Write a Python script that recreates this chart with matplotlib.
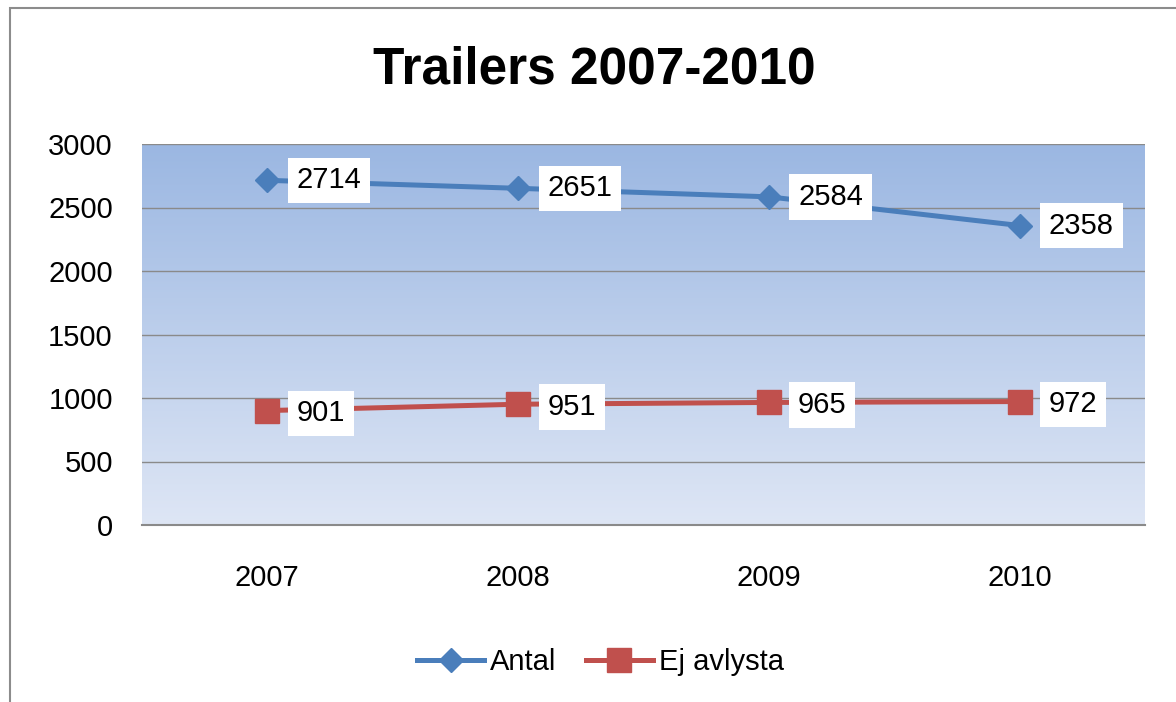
import numpy as np
import matplotlib.pyplot as plt
from matplotlib.colors import LinearSegmentedColormap
from matplotlib.patches import Rectangle

years = ['2007', '2008', '2009', '2010']
antal = [2714, 2651, 2584, 2358]
ej_avlysta = [901, 951, 965, 972]
yticks = [0, 500, 1000, 1500, 2000, 2500, 3000]

plt.rcParams.update({
    'font.family': ['Liberation Sans', 'DejaVu Sans'],
    'font.size': 15,
})

fig = plt.figure(figsize=(11.76, 7.02), dpi=100)
ax = fig.add_axes([142 / 1176, 1 - 525 / 702, 1003 / 1176, 381 / 702])

# outer chart border (right and bottom edges run off the picture)
fig.patches.append(Rectangle((10 / 1176, -0.01), 1.1, 1 - 8 / 702 + 0.01,
                             transform=fig.transFigure, fill=False,
                             edgecolor='#8c8c8c', linewidth=1.5))

x = np.arange(len(years))
ax.set_xlim(-0.5, 3.5)
ax.set_ylim(0, 3000)

# gradient background
cmap = LinearSegmentedColormap.from_list('bg', ['#dee6f5', '#9bb7e2'])
grad = np.linspace(0, 1, 256).reshape(-1, 1)
ax.imshow(grad, extent=(-0.5, 3.5, 0, 3000), origin='lower', aspect='auto',
          cmap=cmap, zorder=0)

for yv in yticks[1:]:
    ax.axhline(yv, color='#8a8a8a', linewidth=1.0, zorder=1)

ax.plot(x, antal, color='#4a7ebb', linewidth=3.6, marker='D', markersize=12,
        label='Antal', zorder=3)
ax.plot(x, ej_avlysta, color='#c0504d', linewidth=3.6, marker='s', markersize=17,
        label='Ej avlysta', zorder=3)

for xi, v in zip(x, antal):
    ax.annotate(str(v), (xi, v), xytext=(21, 0), textcoords='offset points',
                ha='left', va='center', fontsize=21, zorder=5,
                bbox=dict(boxstyle='square,pad=0.3', fc='white', ec='none'))
for xi, v in zip(x, ej_avlysta):
    ax.annotate(str(v), (xi, v), xytext=(21, -2), textcoords='offset points',
                ha='left', va='center', fontsize=21, zorder=5,
                bbox=dict(boxstyle='square,pad=0.3', fc='white', ec='none'))

ax.set_xticks(x)
ax.set_xticklabels(years)
ax.set_yticks(yticks)
ax.tick_params(axis='both', length=0, labelsize=21)
ax.tick_params(axis='x', pad=28)
ax.tick_params(axis='y', pad=21)
for s in ['left', 'right', 'top']:
    ax.spines[s].set_visible(False)
ax.spines['bottom'].set_color('#8a8a8a')
ax.spines['bottom'].set_linewidth(1.5)

fig.text(594 / 1176, 1 - 70 / 702, 'Trailers 2007-2010', ha='center', va='center',
         fontsize=37, fontweight='bold')

ax.legend(loc='center', bbox_to_anchor=(0.457, -0.36), ncol=2, frameon=False,
          fontsize=21, handlelength=2.3, columnspacing=1.0, handletextpad=0.2)

fig.savefig('out.png', dpi=100)
